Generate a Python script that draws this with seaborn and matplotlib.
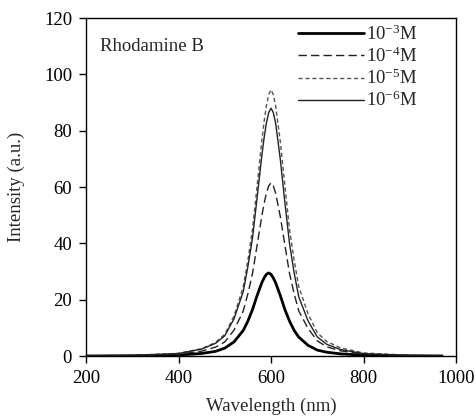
import pandas as pd
import seaborn as sns
import matplotlib.pyplot as plt

wavelength = [200, 300, 400, 450, 480, 500, 520, 540, 550, 560, 570, 580, 585, 590, 595,
              600, 605, 610, 620, 630, 640, 650, 660, 680, 700, 720, 750, 800, 900, 970]

i_1e3 = [0.02, 0.08, 0.35, 0.91, 1.65, 2.8, 5.0, 9.1, 12.4, 16.5, 21.5, 26.0, 27.7, 29.0, 29.5,
         29.0, 27.7, 26.0, 21.5, 16.5, 12.4, 9.1, 6.7, 3.8, 2.1, 1.36, 0.77, 0.28, 0.07, 0.03]
i_1e4 = [0.05, 0.15, 0.62, 1.72, 3.14, 5.0, 9.2, 16.0, 22.1, 29.3, 39.4, 49.6, 54.1, 57.8, 60.4,
         61.5, 60.4, 57.8, 49.6, 39.4, 29.3, 22.1, 16.0, 9.8, 5.4, 3.3, 1.85, 0.7, 0.17, 0.06]
i_1e5 = [0.08, 0.24, 0.95, 2.6, 4.8, 7.7, 14.2, 24.6, 34.0, 45.0, 60.5, 76.2, 83.2, 88.8, 92.8,
         94.5, 92.8, 88.8, 76.2, 60.5, 45.0, 34.0, 24.6, 15.0, 8.3, 5.2, 2.9, 1.1, 0.26, 0.1]
i_1e6 = [0.07, 0.22, 0.88, 2.46, 4.5, 7.2, 13.2, 22.9, 31.7, 41.9, 56.3, 70.9, 77.4, 82.7, 86.4,
         88.0, 86.4, 82.7, 70.0, 54.5, 40.0, 29.5, 21.0, 12.5, 6.8, 4.2, 2.3, 0.85, 0.2, 0.07]

labels = [r"10$^{-3}$M", r"10$^{-4}$M", r"10$^{-5}$M", r"10$^{-6}$M"]

sns.set_style("ticks")
plt.rcParams['font.family'] = ['Liberation Serif', 'DejaVu Serif']
plt.rcParams['mathtext.fontset'] = 'custom'
plt.rcParams['mathtext.rm'] = 'Liberation Serif'
plt.rcParams['mathtext.it'] = 'Liberation Serif:italic'

fig = plt.figure(figsize=(4.76, 4.16), dpi=100)
ax = fig.add_axes([0.1807, 0.1442, 0.7773, 0.8125])

styles = [dict(lw=2.0, ls='-', color='black'),
          dict(lw=1.0, ls=(0, (6, 3)), color='#222222'),
          dict(lw=1.0, ls=(0, (3, 2)), color='#555555'),
          dict(lw=1.0, ls='-', color='#222222')]
for y, lab, st in zip([i_1e3, i_1e4, i_1e5, i_1e6], labels, styles):
    sns.lineplot(x=wavelength, y=y, ax=ax, label=lab, **st)

ax.set_xlim(200, 1000)
ax.set_ylim(0, 120)
ax.set_xticks([200, 400, 600, 800, 1000])
ax.set_yticks(range(0, 121, 20))
ax.tick_params(direction='out', length=5, width=1, pad=5, labelsize=13.5, colors='black')
for s in ax.spines.values():
    s.set_linewidth(1)
    s.set_color('black')
ax.set_xlabel("Wavelength (nm)", fontsize=13.5, labelpad=8)
ax.set_ylabel("Intensity (a.u.)", fontsize=13.5, labelpad=14)
ax.text(230, 110, "Rhodamine B", fontsize=13.5, va='center')

ax.legend(loc='upper left', bbox_to_anchor=(0.573, 0.981), frameon=False, fontsize=13.5,
          handlelength=3.5, handletextpad=0.1, labelspacing=0.15, borderpad=0, borderaxespad=0)

fig.savefig("out.png", dpi=100)
